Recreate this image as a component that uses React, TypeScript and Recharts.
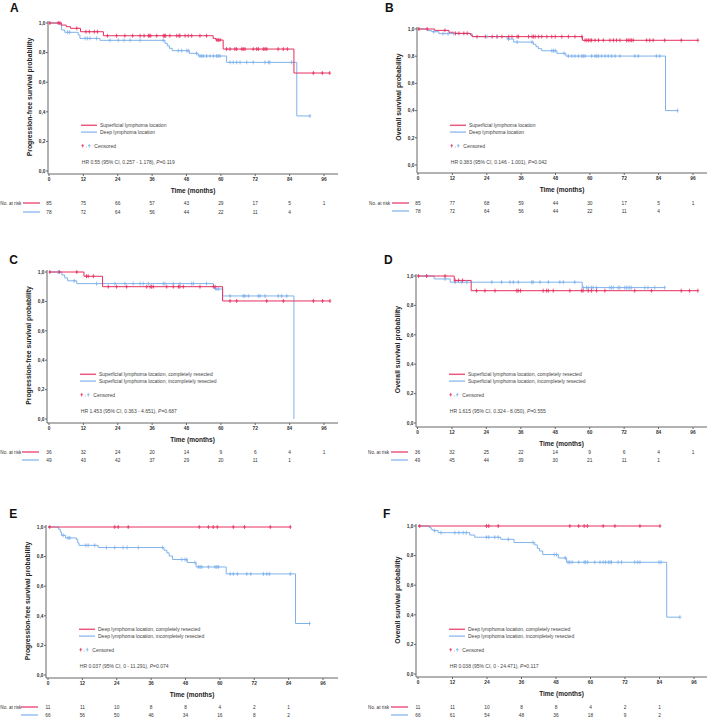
import React from "react";
import { ComposedChart, Line, Scatter, XAxis, YAxis } from "recharts";

const RED = "#e6305f";
const BLUE = "#7fb2ec";
const FONT = "Arial, 'Liberation Sans', sans-serif";
const INK = "#333";

const X_TICKS = [0, 12, 24, 36, 48, 60, 72, 84, 96];
const Y_TICKS = [0, 0.2, 0.4, 0.6, 0.8, 1.0];

type Step = [number, number];

// ---- A: PFS, superficial vs deep
const A_RED: Step[] = [[0, 1], [4.4, 0.986], [6, 0.975], [7.5, 0.964], [11, 0.941], [19, 0.914], [57.3, 0.896], [58.3, 0.885], [60.8, 0.824], [85.5, 0.662], [98, 0.662]];
const A_RED_CENS = [0.3, 3.2, 3.8, 9.7, 12.9, 14.1, 15.8, 16.9, 20.4, 23.6, 26.5, 29.2, 31.8, 33.2, 34.7, 35, 35.5, 37.6, 39.9, 40.3, 40.7, 42.2, 44.6, 45.4, 45.7, 47.5, 48.6, 49.8, 52.7, 55, 58.6, 59.1, 59.7, 62, 63.2, 64.9, 65.5, 67.3, 67.8, 68.4, 71.3, 72.5, 73.1, 74.8, 75.4, 76, 80, 81.8, 83.2, 92.3, 95.4, 98];
const A_BLUE: Step[] = [[0, 1], [3.8, 0.986], [4.4, 0.953], [5.5, 0.937], [10.2, 0.919], [10.8, 0.896], [17.8, 0.883], [40.5, 0.863], [41.3, 0.846], [42, 0.829], [43, 0.813], [49, 0.795], [52.1, 0.777], [62, 0.734], [86.5, 0.372], [91.1, 0.372]];
const A_BLUE_CENS = [6.5, 7.2, 12.6, 13.4, 14.3, 16.6, 21.3, 24.2, 26.2, 28.3, 31.8, 39.9, 45.1, 46.3, 48.1, 48.6, 51.5, 52.7, 53.3, 53.9, 55, 56.2, 57.4, 58.5, 59.1, 59.7, 63.2, 64.3, 65.5, 66.7, 69, 71.3, 75.4, 76.6, 77.1, 84.7, 91.1];
const A_RISK_RED = [85, 75, 66, 57, 43, 29, 17, 5, 1];
const A_RISK_BLUE = [78, 72, 64, 56, 44, 22, 11, 4];

// ---- B: OS, superficial vs deep
const B_RED: Step[] = [[0, 1], [5.8, 0.99], [10.8, 0.976], [12.5, 0.968], [18.3, 0.956], [18.9, 0.944], [57.4, 0.917], [97.7, 0.917]];
const B_RED_CENS = [0.3, 3.2, 9.4, 13.1, 14.3, 16, 17.2, 20.6, 23.5, 25.9, 27.6, 29.3, 31.7, 32.8, 34.6, 35.1, 38.6, 39.8, 40.3, 40.9, 42.1, 43.2, 45, 46.7, 47.9, 50.2, 52.5, 54.8, 57.2, 58.3, 58.9, 59.5, 60.1, 60.6, 61.8, 63, 64.7, 67, 68.2, 69.3, 70.5, 72.8, 73.4, 74, 74.5, 75.1, 79.8, 80.9, 82.1, 86.1, 91.9, 97.7];
const B_BLUE: Step[] = [[0, 1], [3.4, 0.988], [4.8, 0.98], [7.3, 0.966], [18.9, 0.944], [31.1, 0.926], [33.4, 0.904], [40.3, 0.887], [41.2, 0.87], [42, 0.855], [43.2, 0.84], [48.5, 0.821], [51.6, 0.801], [86.4, 0.4], [90.6, 0.4]];
const B_BLUE_CENS = [5.5, 8.7, 10.5, 12.5, 24.1, 27.6, 31.6, 34.6, 39.8, 46.7, 47.3, 47.9, 51, 52.5, 53.7, 54.8, 56, 57.2, 57.7, 58.3, 60.6, 61.8, 62.4, 63, 64.1, 65.3, 66.4, 67.6, 68.8, 70.5, 75.7, 76.9, 83.2, 84.4, 90.6];
const B_RISK_RED = [85, 77, 68, 59, 44, 30, 17, 5, 1];
const B_RISK_BLUE = [78, 72, 64, 56, 44, 22, 11, 4];

// ---- C: PFS, superficial completely vs incompletely resected
const C_RED: Step[] = [[0, 1], [12.2, 0.971], [18.7, 0.9], [60.6, 0.803], [98.1, 0.803]];
const C_RED_CENS = [0.3, 3.6, 9.7, 13.1, 13.7, 15.5, 20.7, 23.6, 27.1, 34.1, 35.3, 35.8, 36.4, 41.1, 43.4, 45.2, 45.7, 46.9, 52.7, 57.4, 58, 63.2, 65.5, 76, 81.8, 92.3, 95.5, 98.1];
const C_BLUE: Step[] = [[0, 1], [4.5, 0.98], [5.5, 0.96], [6.5, 0.94], [9.7, 0.921], [57.4, 0.902], [57.9, 0.884], [60.6, 0.837], [85.5, 0]];
const C_BLUE_CENS = [3.2, 8.8, 16.6, 23, 26.5, 29.4, 31.8, 32.9, 34.7, 39.9, 40.5, 43.4, 45.7, 49.8, 50.4, 55, 58.3, 59.1, 63.2, 67.8, 68.4, 69.6, 73.1, 73.7, 75.4, 80, 81.2, 83];
const C_RISK_RED = [36, 32, 24, 20, 14, 9, 6, 4, 1];
const C_RISK_BLUE = [49, 43, 42, 37, 29, 20, 11, 1];

// ---- D: OS, superficial completely vs incompletely resected
const D_RED: Step[] = [[0, 1], [12.8, 0.97], [18.7, 0.9], [97.7, 0.9]];
const D_RED_CENS = [0.3, 3.2, 9.6, 13.1, 14.3, 15.7, 20.6, 23.5, 27, 34.6, 35.1, 35.9, 43.8, 45, 45.6, 47.3, 53.1, 57.2, 57.7, 59.5, 60.6, 62.4, 65.3, 75.7, 81.5, 91.9, 94.8, 97.7];
const D_BLUE: Step[] = [[0, 1], [5.8, 0.98], [11.4, 0.958], [57.4, 0.921], [86.1, 0.921]];
const D_BLUE_CENS = [3.2, 9.6, 13.1, 15.4, 17.2, 25.9, 29.3, 32.2, 33.4, 35.1, 39.8, 40.3, 42.7, 45.6, 49.6, 50.8, 54.8, 57.7, 58.9, 59.5, 60.6, 61.2, 62.4, 67, 67.6, 68.2, 69.9, 70.5, 72.2, 72.8, 73.4, 74, 74.5, 79.2, 80.3, 82.7, 86.1];
const D_RISK_RED = [36, 32, 25, 22, 14, 9, 6, 4, 1];
const D_RISK_BLUE = [49, 45, 44, 39, 30, 21, 11, 1];

// ---- E: PFS, deep completely vs incompletely resected
const E_RED: Step[] = [[0, 1], [84.6, 1]];
const E_RED_CENS = [0.6, 23.3, 24.5, 28, 52.8, 56, 57.7, 59.1, 64.7, 68.6, 77.6, 84.6];
const E_BLUE: Step[] = [[0, 1], [3.7, 0.985], [4.3, 0.966], [4.7, 0.944], [6.1, 0.926], [9.9, 0.915], [10.4, 0.892], [10.8, 0.876], [17.5, 0.861], [40.5, 0.843], [41.5, 0.825], [42.3, 0.804], [43.5, 0.78], [48.6, 0.76], [51.7, 0.73], [62.2, 0.683], [86.4, 0.348], [91.3, 0.348]];
const E_BLUE_CENS = [5.3, 7, 7.6, 13.2, 14, 16.3, 20.4, 23.3, 26.2, 27.6, 31.5, 40, 46.7, 47.8, 48.4, 51.3, 52.5, 53.1, 53.7, 56, 58.3, 58.9, 59.5, 63.6, 64.7, 66.1, 69.4, 70.8, 75.2, 76.4, 77.3, 84.6, 91.3];
const E_RISK_RED = [11, 11, 10, 8, 8, 4, 2, 1];
const E_RISK_BLUE = [66, 56, 50, 46, 34, 16, 8, 2];

// ---- F: OS, deep completely vs incompletely resected
const F_RED: Step[] = [[0, 1], [84.2, 1]];
const F_RED_CENS = [0.6, 23.8, 24.6, 27.9, 52.8, 55.9, 57.8, 58.9, 64.4, 68.5, 77.2, 84.2];
const F_BLUE: Step[] = [[0, 1], [4, 0.989], [4.6, 0.977], [5.2, 0.969], [7, 0.955], [18, 0.939], [19.7, 0.924], [28.8, 0.91], [33.4, 0.888], [40.6, 0.872], [41.5, 0.849], [42.3, 0.831], [43.4, 0.807], [48.8, 0.784], [51.7, 0.755], [86.5, 0.384], [91.1, 0.384]];
const F_BLUE_CENS = [5.8, 8, 12.8, 14.2, 15.7, 16.8, 23.8, 24.6, 26.7, 27.9, 31.4, 40, 47.4, 48.2, 51.2, 52.2, 52.8, 53.6, 55.9, 57.8, 58.3, 59, 61.5, 63.3, 64.4, 65.2, 66.2, 66.8, 67.3, 69.6, 70.8, 75.4, 76.4, 77.2, 83.8, 84.5, 91.1];
const F_RISK_RED = [11, 11, 10, 8, 8, 4, 2, 1];
const F_RISK_BLUE = [66, 61, 54, 48, 36, 18, 9, 2];

const PFS = "Progression-free survival probability";
const OS = "Overall survival probability";
const LEG_SUP = ["Superficial lymphoma location", "Deep lymphoma location"];
const LEG_SUP_RES = ["Superficial lymphoma location, completely resected", "Superficial lymphoma location, incompletely resected"];
const LEG_DEEP_RES = ["Deep lymphoma location, completely resected", "Deep lymphoma location, incompletely resected"];

type Cfg = {
  letter: string; lx: number; ly: number; yTitle: string;
  axisL: number; x0: number; x96: number; axisR: number;
  y1: number; y0: number; axisY: number; row1: number; row2: number;
  legY: number; legend: string[]; hr: string; p: string;
  red: Step[]; redC: number[]; blue: Step[]; blueC: number[];
  riskRed: number[]; riskBlue: number[];
};

const PANELS: Cfg[] = [
  { letter: "A", lx: 10, ly: 12.3, yTitle: PFS, axisL: 48, x0: 49, x96: 324, axisR: 338, y1: 23, y0: 171, axisY: 174, row1: 203, row2: 212, legY: 125.3, legend: LEG_SUP, hr: "HR 0.55 (95% CI, 0.257 - 1.178), ", p: "=0.119", red: A_RED, redC: A_RED_CENS, blue: A_BLUE, blueC: A_BLUE_CENS, riskRed: A_RISK_RED, riskBlue: A_RISK_BLUE },
  { letter: "B", lx: 385, ly: 12.3, yTitle: OS, axisL: 417, x0: 418, x96: 693, axisR: 707, y1: 29, y0: 165, axisY: 173, row1: 203, row2: 211, legY: 125.3, legend: LEG_SUP, hr: "HR 0.383 (95% CI, 0.146 - 1.001), ", p: "=0.042", red: B_RED, redC: B_RED_CENS, blue: B_BLUE, blueC: B_BLUE_CENS, riskRed: B_RISK_RED, riskBlue: B_RISK_BLUE },
  { letter: "C", lx: 9.3, ly: 264.3, yTitle: PFS, axisL: 47, x0: 49, x96: 324, axisR: 338, y1: 272, y0: 419, axisY: 423, row1: 452, row2: 460, legY: 374.3, legend: LEG_SUP_RES, hr: "HR 1.453 (95% CI, 0.363 - 4.651), ", p: "=0.687", red: C_RED, redC: C_RED_CENS, blue: C_BLUE, blueC: C_BLUE_CENS, riskRed: C_RISK_RED, riskBlue: C_RISK_BLUE },
  { letter: "D", lx: 384, ly: 264.3, yTitle: OS, axisL: 416, x0: 417.5, x96: 693, axisR: 707, y1: 276, y0: 423, axisY: 427, row1: 452, row2: 460, legY: 374.3, legend: LEG_SUP_RES, hr: "HR 1.615 (95% CI, 0.324 - 8.050), ", p: "=0.555", red: D_RED, redC: D_RED_CENS, blue: D_BLUE, blueC: D_BLUE_CENS, riskRed: D_RISK_RED, riskBlue: D_RISK_BLUE },
  { letter: "E", lx: 9.3, ly: 518.3, yTitle: PFS, axisL: 46, x0: 48, x96: 323, axisR: 338, y1: 527, y0: 675, axisY: 678, row1: 707, row2: 715, legY: 629.3, legend: LEG_DEEP_RES, hr: "HR 0.037 (95% CI, 0 - 11.291), ", p: "=0.074", red: E_RED, redC: E_RED_CENS, blue: E_BLUE, blueC: E_BLUE_CENS, riskRed: E_RISK_RED, riskBlue: E_RISK_BLUE },
  { letter: "F", lx: 383, ly: 518.3, yTitle: OS, axisL: 416, x0: 418, x96: 694, axisR: 707, y1: 526, y0: 674, axisY: 677, row1: 707, row2: 715, legY: 629.3, legend: LEG_DEEP_RES, hr: "HR 0.038 (95% CI, 0 - 24.471), ", p: "=0.117", red: F_RED, redC: F_RED_CENS, blue: F_BLUE, blueC: F_BLUE_CENS, riskRed: F_RISK_RED, riskBlue: F_RISK_BLUE },
];

const toRows = (steps: Step[]) => steps.map(([t, s]) => ({ t, s }));

// censor marks sit on the curve level at their time
const censorRows = (steps: Step[], times: number[]) =>
  times.map((t) => {
    let s = steps[0][1];
    for (const [st, sv] of steps) if (st <= t) s = sv;
    return { t, s };
  });

const plus = (color: string) => (p: any) => (
  <path
    d={`M${p.cx},${p.cy - 2}V${p.cy + 2}M${p.cx - 1.4},${p.cy}H${p.cx + 1.4}`}
    stroke={color}
    strokeWidth={0.8}
  />
);

const riskTick = (values: number[]) => (p: any) => {
  const i = X_TICKS.indexOf(p.payload.value);
  const v = values[i];
  return (
    <text x={p.x} y={p.y + 4} textAnchor="middle" dominantBaseline="central" fontSize={4.8} fontFamily={FONT} fill={INK}>
      {v === undefined ? "" : v}
    </text>
  );
};

const YW = 20;

function Chart({ c }: { c: Cfg }) {
  const left = c.axisL - YW;
  const top = c.y1 - 2;
  const width = c.axisR - left;
  const hx = c.row1 - 4 - c.axisY;
  const hr = c.row2 - c.row1;
  const height = c.axisY - top + hx + 2 * hr;
  const k = (c.x96 - c.x0) / 96;
  const xDom: [number, number] = [(c.axisL - c.x0) / k, (c.axisR - c.x0) / k];
  const span = c.y0 - c.y1;
  const yDom: [number, number] = [-(c.axisY - c.y0) / span, 1 + 2 / span];
  const tickStyle = { fontSize: 4.8, fontWeight: 700, fill: INK, fontFamily: FONT };
  return (
    <div style={{ position: "absolute", left, top }}>
      <ComposedChart width={width} height={height} margin={{ top: 0, right: 0, bottom: 0, left: 0 }}>
        <XAxis xAxisId="main" type="number" dataKey="t" domain={xDom} allowDataOverflow ticks={X_TICKS} height={hx} tickSize={2} tickMargin={2} stroke="#666" tick={tickStyle} />
        <XAxis xAxisId="r1" type="number" dataKey="t" domain={xDom} allowDataOverflow ticks={X_TICKS} height={hr} axisLine={false} tickLine={false} tickSize={0} tickMargin={0} tick={riskTick(c.riskRed)} />
        <XAxis xAxisId="r2" type="number" dataKey="t" domain={xDom} allowDataOverflow ticks={X_TICKS} height={hr} axisLine={false} tickLine={false} tickSize={0} tickMargin={0} tick={riskTick(c.riskBlue)} />
        <YAxis type="number" domain={yDom} allowDataOverflow ticks={Y_TICKS} width={YW} tickSize={2} tickMargin={0.5} stroke="#666" tick={tickStyle} tickFormatter={(v: number) => v.toFixed(1).replace(".", ",")} />
        <Line xAxisId="main" data={toRows(c.blue)} dataKey="s" type="stepAfter" stroke={BLUE} strokeWidth={1} dot={false} isAnimationActive={false} />
        <Line xAxisId="main" data={toRows(c.red)} dataKey="s" type="stepAfter" stroke={RED} strokeWidth={1} dot={false} isAnimationActive={false} />
        <Scatter xAxisId="main" data={censorRows(c.blue, c.blueC)} dataKey="s" shape={plus(BLUE)} isAnimationActive={false} />
        <Scatter xAxisId="main" data={censorRows(c.red, c.redC)} dataKey="s" shape={plus(RED)} isAnimationActive={false} />
      </ComposedChart>
    </div>
  );
}

function Notes({ c }: { c: Cfg }) {
  const lx = c.axisL + 33;
  const yc = (c.y1 + c.y0) / 2;
  const tx = c.axisL - 18.5;
  const small = { fontSize: 5, fontFamily: FONT, fill: "#444" };
  return (
    <g>
      <text x={c.lx} y={c.ly} fontSize={12} fontWeight={700} fontFamily={FONT} fill="#111">{c.letter}</text>
      <text x={tx} y={yc} transform={`rotate(-90 ${tx} ${yc})`} textAnchor="middle" dominantBaseline="central" fontSize={6.8} fontWeight={700} fontFamily={FONT} fill="#222">{c.yTitle}</text>
      <text x={(c.axisL + c.axisR) / 2} y={c.axisY + 16.5} textAnchor="middle" dominantBaseline="central" fontSize={6.5} fontWeight={700} fontFamily={FONT} fill="#222">Time (months)</text>
      <line x1={lx} x2={lx + 16} y1={c.legY} y2={c.legY} stroke={RED} strokeOpacity={0.8} strokeWidth={1.5} />
      <line x1={lx} x2={lx + 16} y1={c.legY + 6.8} y2={c.legY + 6.8} stroke={BLUE} strokeOpacity={0.8} strokeWidth={1.5} />
      <text x={lx + 19} y={c.legY} dominantBaseline="central" {...small}>{c.legend[0]}</text>
      <text x={lx + 19} y={c.legY + 6.8} dominantBaseline="central" {...small}>{c.legend[1]}</text>
      <path d={`M${lx + 1.7},${c.legY + 18.6}v3.6M${lx + 0.4},${c.legY + 20.4}h2.6`} stroke={RED} strokeWidth={0.8} />
      <text x={lx + 4.6} y={c.legY + 21.4} {...small}>,</text>
      <path d={`M${lx + 8.3},${c.legY + 18.6}v3.6M${lx + 7},${c.legY + 20.4}h2.6`} stroke={BLUE} strokeWidth={0.8} />
      <text x={lx + 13.3} y={c.legY + 20.4} dominantBaseline="central" {...small}>Censored</text>
      <text x={lx + 0.8} y={c.legY + 37} dominantBaseline="central" {...small}>
        {c.hr}
        <tspan fontStyle="italic">P</tspan>
        {c.p}
      </text>
      <text x={Math.max(0.3, c.axisL - 48)} y={c.row1} dominantBaseline="central" fontSize={4.7} fontFamily={FONT} fill={INK}>No. at risk</text>
      <line x1={c.axisL - 25} x2={c.axisL - 8} y1={c.row1} y2={c.row1} stroke={RED} strokeOpacity={0.8} strokeWidth={1.5} />
      <line x1={c.axisL - 25} x2={c.axisL - 8} y1={c.row2} y2={c.row2} stroke={BLUE} strokeOpacity={0.8} strokeWidth={1.5} />
    </g>
  );
}

export default function App() {
  return (
    <div style={{ position: "absolute", left: 0, top: 0, width: 709, height: 717, overflow: "hidden", background: "#fff" }}>
      {PANELS.map((c) => (
        <Chart key={c.letter} c={c} />
      ))}
      <svg width={709} height={717} style={{ position: "absolute", left: 0, top: 0, pointerEvents: "none" }}>
        {PANELS.map((c) => (
          <Notes key={c.letter} c={c} />
        ))}
      </svg>
    </div>
  );
}
